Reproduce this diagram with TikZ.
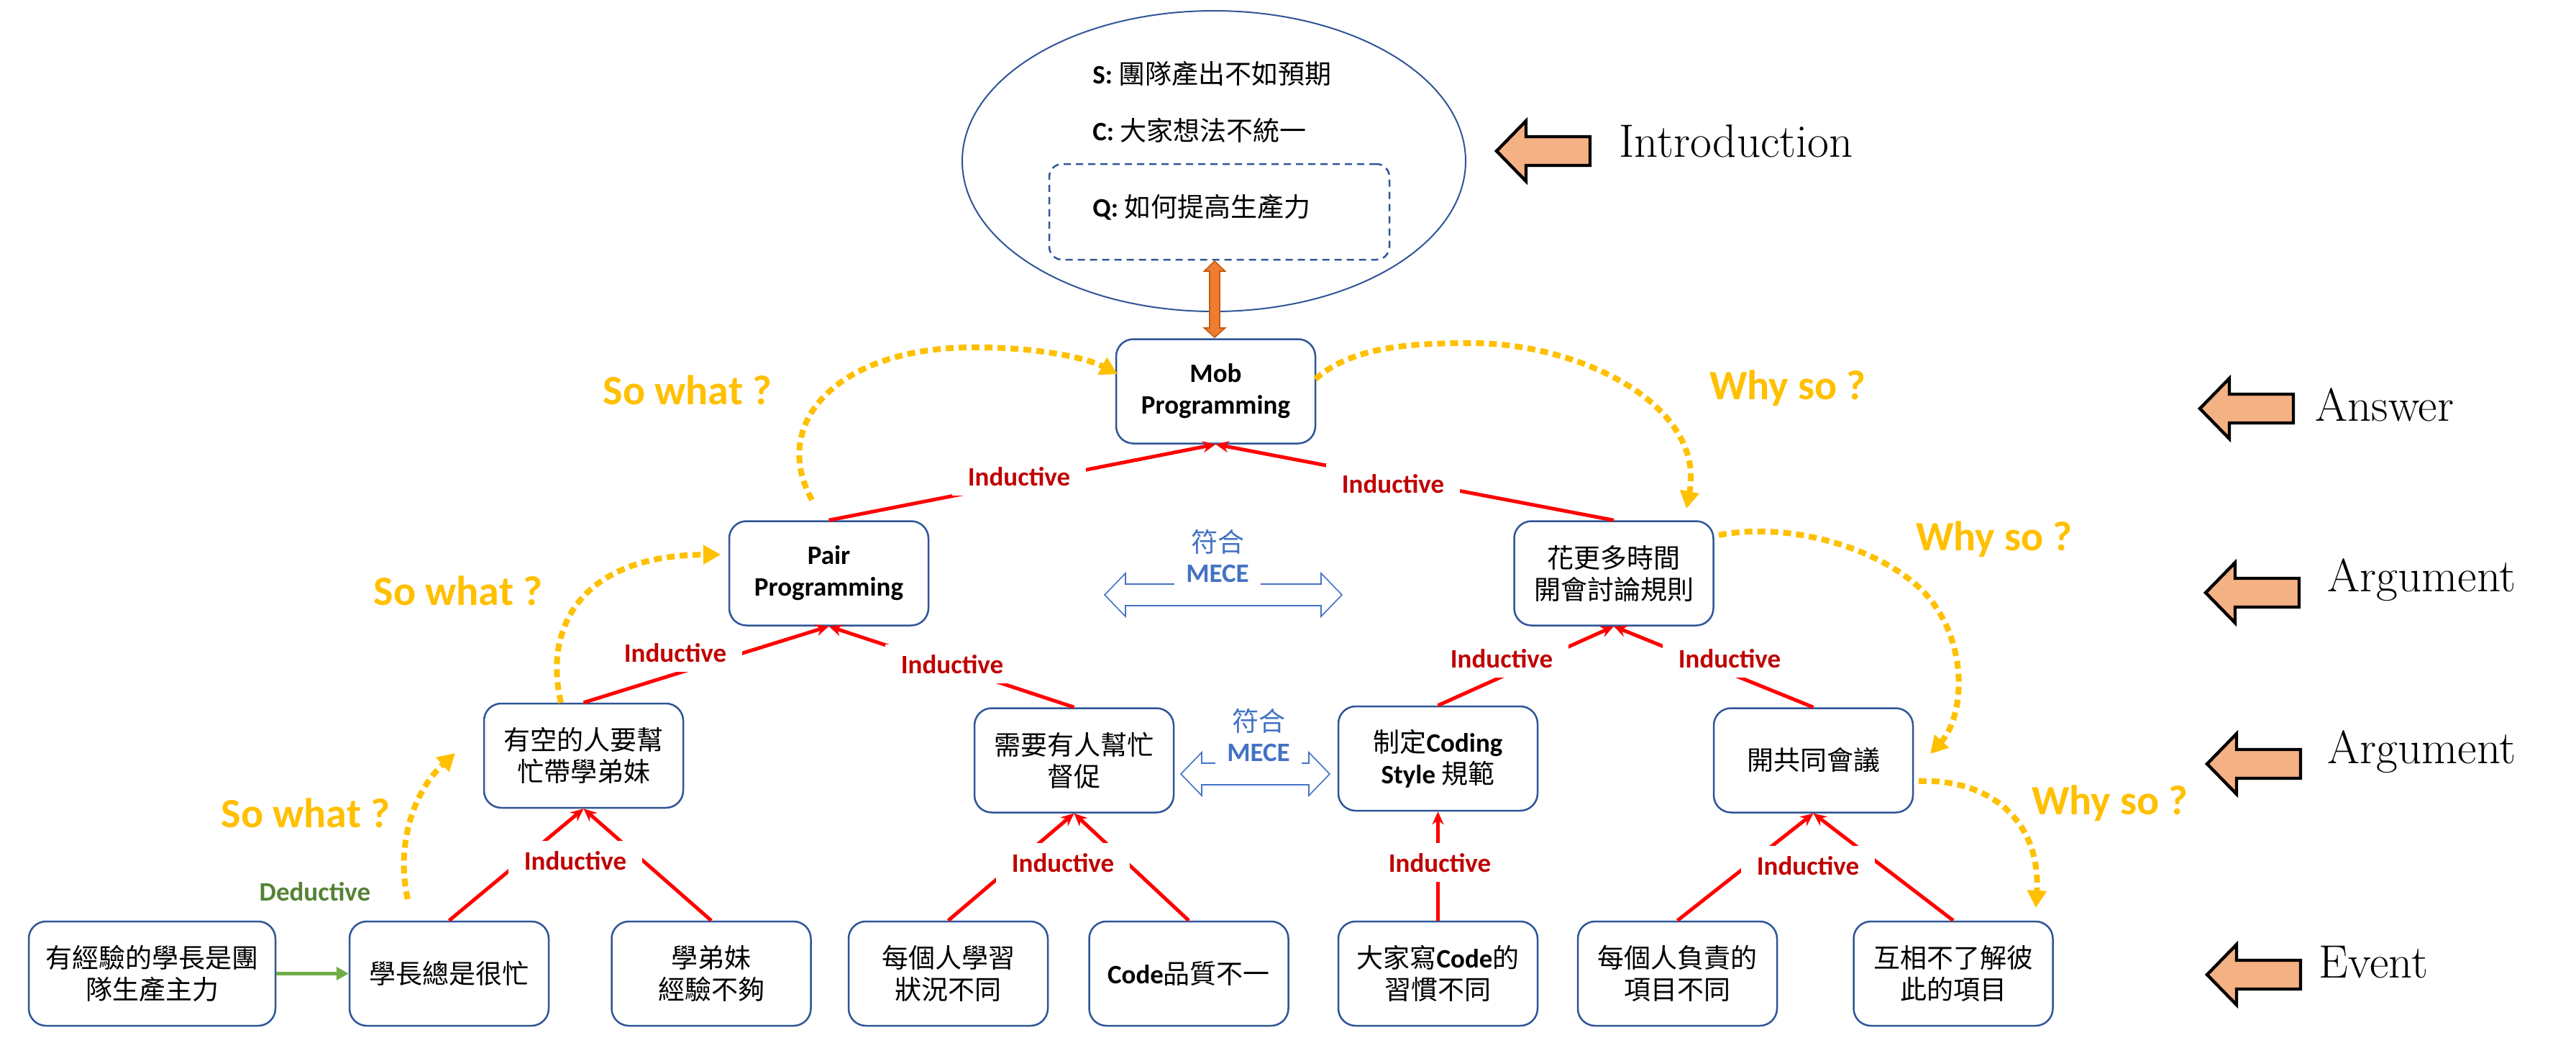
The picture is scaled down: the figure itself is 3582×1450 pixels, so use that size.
\documentclass[tikz,border=0pt]{standalone}
\usepackage{fontspec}
\newfontfamily\cjk{Noto Sans CJK TC}
\newfontfamily\cb{Carlito}
\usetikzlibrary{arrows.meta,shapes.geometric,calc}
\definecolor{boxblue}{HTML}{2F5597}
\definecolor{indred}{HTML}{C00000}
\definecolor{linered}{HTML}{FF0000}
\definecolor{yel}{HTML}{FFC000}
\definecolor{dgreen}{HTML}{548235}
\definecolor{lgreen}{HTML}{70AD47}
\definecolor{meceblue}{HTML}{4472C4}
\definecolor{oran}{HTML}{ED7D31}
\definecolor{orandark}{HTML}{C55A11}
\definecolor{peach}{HTML}{F4B183}
\newcommand\lb[1]{{\cb\bfseries #1}}
\newcommand\blockarrow[1]{\draw[blockarr] (#1) -- ++(41,-42) -- ++(0,22) -- ++(89,0) -- ++(0,40) -- ++(-89,0) -- ++(0,22) -- cycle;}
\newcommand\mecearrow[3]{\draw[mecearr] (#1,#3) -- ++(29,-30) -- ++(0,15) -- (#2-29,#3-15) -- ++(0,-15) -- (#2,#3) -- ++(-29,30) -- ++(0,-15) -- (#1+29,#3+15) -- ++(0,15) -- cycle;}
\begin{document}
\begin{tikzpicture}[x=0.5pt,y=-0.5pt,
  box/.style={draw=boxblue, line width=1.25pt, rounded corners=12pt, fill=white, minimum width=138.5pt, minimum height=72.5pt, align=center, inner sep=2pt, font=\cjk\fontsize{18.5pt}{22pt}\selectfont},
  ind/.style={draw=linered, line width=2.5pt, -{Stealth[length=9pt,width=8pt]}},
  indlab/.style={fill=white, text=indred, anchor=base, inner xsep=11pt, inner ysep=7pt, font=\cb\bfseries\fontsize{18.5pt}{22pt}\selectfont},
  yarr/.style={draw=yel, line width=4pt, dash pattern=on 5.5pt off 3.5pt, -{Triangle[length=12pt,width=13pt]}},
  ylab/.style={text=yel, anchor=base, inner sep=0pt, font=\cb\bfseries\fontsize{29pt}{34pt}\selectfont},
  side/.style={anchor=base west, inner sep=0pt, font=\rmfamily\fontsize{32.5pt}{38pt}\selectfont},
  blockarr/.style={draw=black, line width=2.2pt, fill=peach, line join=miter},
  mecearr/.style={draw=meceblue, line width=0.8pt, fill=white, line join=miter},
  mecelab/.style={text=meceblue, anchor=base, fill=white, inner xsep=8pt, inner ysep=4pt, font=\cb\bfseries\fontsize{18.5pt}{22pt}\selectfont},
  fuhe/.style={text=meceblue, inner sep=0pt, font=\cjk\fontsize{18.5pt}{22pt}\selectfont},
  sctext/.style={anchor=base west, inner sep=0pt, font=\cjk\fontsize{18.5pt}{22pt}\selectfont},
  dedlab/.style={text=dgreen, anchor=base, inner sep=0pt, font=\cb\bfseries\fontsize{18.5pt}{22pt}\selectfont},
  ded/.style={draw=lgreen, line width=2.5pt, -{Triangle[length=8.5pt,width=9pt]}}
]
\useasboundingbox (0,0) rectangle (3582,1450);
\fill[white] (0,0) rectangle (3582,1450);

% introduction ellipse
\node[draw=boxblue, line width=1pt, ellipse, minimum width=350pt, minimum height=209pt, inner sep=0pt] (sit) at (1688,224) {};
\node[draw=boxblue, line width=1.25pt, dash pattern=on 5pt off 3.5pt, rounded corners=9pt, minimum width=236.5pt, minimum height=66.5pt, inner sep=0pt] (q) at (1695.5,294.5) {};
\node[sctext] (st) at (1519,117) {\lb{S:} 團隊產出不如預期};
\node[sctext] (ct) at (1519,195) {\lb{C:} 大家想法不統一};
\node[sctext] (qt) at (1519,301) {\lb{Q:} 如何提高生產力};

% boxes
\node[box] (mob) at (1690.5,544) {\lb{Mob}\\\lb{Programming}};
\node[box] (a1) at (1152.5,797) {\lb{Pair}\\\lb{Programming}};
\node[box] (a2) at (2244,797) {花更多時間\\開會討論規則};
\node[box] (m1) at (811.5,1050.5) {有空的人要幫\\忙帶學弟妹};
\node[box] (m2) at (1493.5,1057) {需要有人幫忙\\督促};
\node[box] (m3) at (1999.5,1054.5) {制定\lb{Coding}\\\lb{Style} 規範};
\node[box] (m4) at (2521.5,1057) {開共同會議};
\node[box, minimum width=171.5pt] (b1) at (211.5,1353.5) {有經驗的學長是團\\隊生產主力};
\node[box] (b2) at (624.5,1353.5) {學長總是很忙};
\node[box] (b3) at (989,1353.5) {學弟妹\\經驗不夠};
\node[box] (b4) at (1318.5,1353.5) {每個人學習\\狀況不同};
\node[box] (b5) at (1653,1353.5) {\lb{Code}品質不一};
\node[box] (b6) at (1999.5,1353.5) {大家寫\lb{Code}的\\習慣不同};
\node[box] (b7) at (2332.5,1353.5) {每個人負責的\\項目不同};
\node[box] (b8) at (2716,1353.5) {互相不了解彼\\此的項目};

% orange double arrow between Q and Mob
\coordinate (oa) at (1689,363);
\coordinate (ob) at (1689,469);
\draw[draw=orandark, line width=0.8pt, fill=oran, line join=miter] (oa) -- ++(14.5,14) -- ++(-7.5,0) -- ++(0,79) -- ++(7.5,0) -- (ob) -- ++(-14.5,-13) -- ++(7.5,0) -- ++(0,-79) -- ++(-7.5,0) -- cycle;

% inductive connectors
\draw[ind] (a1.north) -- (mob.south);
\draw[ind] (a2.north) -- (mob.south);
\draw[ind] (m1.north) -- (a1.south);
\draw[ind] (m2.north) -- (a1.south);
\draw[ind] (m3.north) -- (a2.south);
\draw[ind] (m4.north) -- (a2.south);
\draw[ind] (b2.north) -- (m1.south);
\draw[ind] (b3.north) -- (m1.south);
\draw[ind] (b4.north) -- (m2.south);
\draw[ind] (b5.north) -- (m2.south);
\draw[ind] (b6.north) -- (m3.south);
\draw[ind] (b7.north) -- (m4.south);
\draw[ind] (b8.north) -- (m4.south);

\node[indlab] (l1) at (1417,675) {Inductive};
\node[indlab] (l2) at (1937,685) {Inductive};
\node[indlab] (l3) at (939,920) {Inductive};
\node[indlab] (l4) at (1324,936) {Inductive};
\node[indlab] (l5) at (2088,928) {Inductive};
\node[indlab] (l6) at (2405,928) {Inductive};
\node[indlab] (l7) at (800,1209) {Inductive};
\node[indlab] (l8) at (1478,1212) {Inductive};
\node[indlab] (l9) at (2002,1212) {Inductive};
\node[indlab] (l10) at (2514,1216) {Inductive};

% deductive
\draw[ded] (b1.east) -- (b2.west);
\node[dedlab] (dl) at (438,1252) {Deductive};

% MECE arrows
\mecearrow{1536}{1866}{827}
\node[mecelab] (mece1) at (1693,809) {MECE};
\node[fuhe] (fh1) at (1693,753) {符合};
\mecearrow{1642}{1849}{1076}
\node[mecelab] (mece2) at (1750,1058) {MECE};
\node[fuhe] (fh2) at (1750,1002) {符合};

% yellow so-what / why-so curves
\coordinate (y1s) at (1129,695);
\coordinate (y1e) at (1554,520);
\draw[yarr] (y1s) .. controls (1068,585) and (1170,480) .. (1361,483) .. controls (1440,483) and (1510,497) .. (y1e);
\coordinate (y2s) at (1829,527);
\coordinate (y2e) at (2345,707);
\draw[yarr] (y2s) .. controls (1880,482) and (1960,477) .. (2046,477) .. controls (2200,477) and (2372,565) .. (y2e);
\coordinate (y3s) at (780,977);
\coordinate (y3e) at (1002,771);
\draw[yarr] (y3s) .. controls (755,870) and (810,772) .. (y3e);
\coordinate (y4s) at (567,1250);
\coordinate (y4e) at (633,1047);
\draw[yarr] (y4s) .. controls (550,1175) and (575,1100) .. (y4e);
\coordinate (y5s) at (2390,744);
\coordinate (y5e) at (2684,1048);
\draw[yarr] (y5s) .. controls (2500,722) and (2645,772) .. (2692,844) .. controls (2738,912) and (2728,1000) .. (y5e);
\coordinate (y6s) at (2668,1086);
\coordinate (y6e) at (2831,1262);
\draw[yarr] (y6s) .. controls (2765,1082) and (2838,1140) .. (y6e);

\node[ylab] (sw1) at (956,562) {So what ?};
\node[ylab] (sw2) at (637,841) {So what ?};
\node[ylab] (sw3) at (425,1150) {So what ?};
\node[ylab] (ws1) at (2486,555) {Why so ?};
\node[ylab] (ws2) at (2773,765) {Why so ?};
\node[ylab] (ws3) at (2934,1132) {Why so ?};

% side block arrows and level names
\coordinate (t1) at (2081,210);
\coordinate (t2) at (3059,568);
\coordinate (t3) at (3067,824);
\coordinate (t4) at (3069,1062);
\coordinate (t5) at (3069,1355);
\blockarrow{t1}
\blockarrow{t2}
\blockarrow{t3}
\blockarrow{t4}
\blockarrow{t5}
\node[side] (nintro) at (2251,218) {Introduction};
\node[side] (nans) at (3219,585) {Answer};
\node[side] (narg1) at (3236,822) {Argument};
\node[side] (narg2) at (3236,1061) {Argument};
\node[side] (nev) at (3224,1359) {Event};
\end{tikzpicture}
\end{document}
